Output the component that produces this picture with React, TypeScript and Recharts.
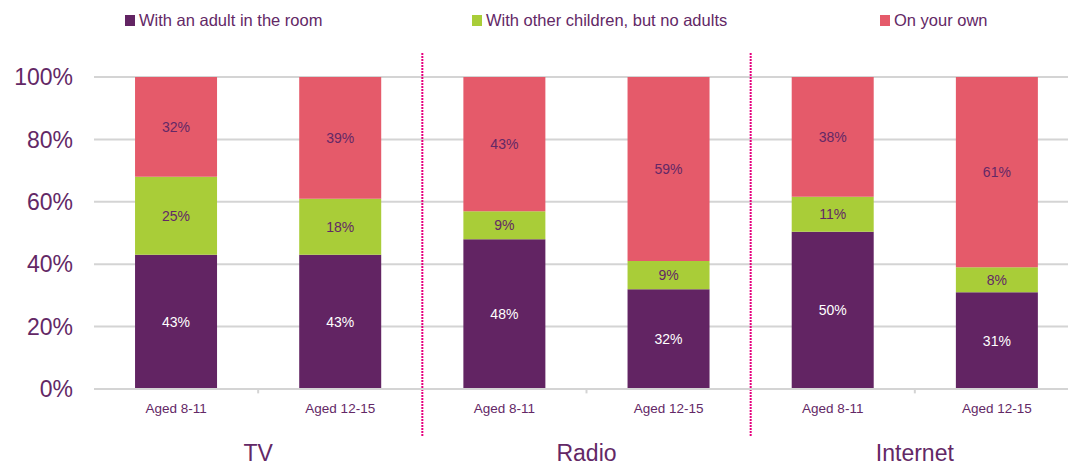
import React from 'react';
import { BarChart, Bar, XAxis, YAxis, CartesianGrid, ReferenceLine, LabelList } from 'recharts';

const categories = ['Aged 8-11', 'Aged 12-15', 'Aged 8-11', 'Aged 12-15', 'Aged 8-11', 'Aged 12-15'];
const groups = ['TV', 'Radio', 'Internet'];
const seriesNames = ['With an adult in the room', 'With other children, but no adults', 'On your own'];
const adult = [43, 43, 48, 32, 50.4, 31];
const children = [25, 18, 9, 9, 11.2, 8];
const own = [32, 39, 43, 59, 38.4, 61];
const yTicks = [0, 20, 40, 60, 80, 100];

const PURPLE = '#622463';
const GREEN = '#A9CD38';
const RED = '#E55A6A';
const TEXT = '#632866';
const GRID = '#D4D4D4';
const DIVIDER = '#E6007E';
const FONT = '"Liberation Sans", Arial, sans-serif';

const data = categories.map((c, i) => ({
  key: String(i),
  pos: i + 0.5,
  label: c,
  adult: adult[i],
  children: children[i],
  own: own[i],
}));

const colors = [PURPLE, GREEN, RED];
const legendX = [125, 472, 880];

const fmt = (v: any) => `${Math.round(Number(v))}%`;

export default function App() {
  return (
    <div style={{ position: 'absolute', left: 0, top: 0, width: 1068, height: 466, overflow: 'hidden', background: '#fff', fontFamily: FONT }}>
      {seriesNames.map((name, i) => (
        <div key={name} style={{ position: 'absolute', left: legendX[i], top: 9, height: 22, display: 'flex', alignItems: 'center', whiteSpace: 'nowrap' }}>
          <div style={{ width: 10, height: 11, background: colors[i], marginRight: 4 }} />
          <span style={{ fontSize: 16.5, color: TEXT, fontFamily: FONT }}>{name}</span>
        </div>
      ))}
      <BarChart
        width={1085}
        height={466}
        data={data}
        margin={{ top: 77, right: 6, left: 0, bottom: 0 }}
        barCategoryGap="25%"
        style={{ position: 'absolute', left: 0, top: 0 }}
      >
        <CartesianGrid vertical={false} stroke={GRID} strokeWidth={2} />
        <XAxis
          dataKey="key"
          tickFormatter={(v: any) => categories[Number(v)]}
          height={30}
          axisLine={{ stroke: GRID, strokeWidth: 2 }}
          tickLine={false}
          tickMargin={8}
          tick={{ fontSize: 13.5, fill: TEXT, fontFamily: FONT }}
          interval={0}
        />
        <XAxis
          xAxisId="g"
          dataKey="pos"
          type="number"
          domain={[0, 6]}
          ticks={[1, 3, 5]}
          tickFormatter={(v: any) => groups[(Number(v) - 1) / 2]}
          height={47}
          axisLine={false}
          tickLine={false}
          tickMargin={20}
          tick={{ fontSize: 23, fill: TEXT, fontFamily: FONT }}
          allowDataOverflow
        />
        <YAxis
          domain={[0, 100]}
          ticks={yTicks}
          tickFormatter={(v: any) => `${v}%`}
          width={94}
          axisLine={false}
          tickLine={false}
          tickMargin={15}
          tick={{ fontSize: 23, fill: TEXT, fontFamily: FONT }}
        />
        {[1, 3, 5].map((x) => (
          <ReferenceLine
            key={`t${x}`}
            xAxisId="g"
            ifOverflow="visible"
            segment={[{ x, y: 0 }, { x, y: -1.4 }]}
            stroke={GRID}
            strokeWidth={2}
          />
        ))}
        {[2, 4].map((x) => (
          <ReferenceLine
            key={`d${x}`}
            xAxisId="g"
            ifOverflow="visible"
            segment={[{ x, y: 107.7 }, { x, y: -15.1 }]}
            stroke={DIVIDER}
            strokeWidth={2}
            strokeDasharray="2 1"
          />
        ))}
        <Bar dataKey="adult" stackId="a" fill={PURPLE} isAnimationActive={false}>
          <LabelList dataKey="adult" position="center" formatter={fmt} fill="#FFFFFF" style={{ fontSize: 14, fontFamily: FONT }} />
        </Bar>
        <Bar dataKey="children" stackId="a" fill={GREEN} isAnimationActive={false}>
          <LabelList dataKey="children" position="center" formatter={fmt} fill={TEXT} style={{ fontSize: 14, fontFamily: FONT }} />
        </Bar>
        <Bar dataKey="own" stackId="a" fill={RED} isAnimationActive={false}>
          <LabelList dataKey="own" position="center" formatter={fmt} fill={TEXT} style={{ fontSize: 14, fontFamily: FONT }} />
        </Bar>
      </BarChart>
    </div>
  );
}
